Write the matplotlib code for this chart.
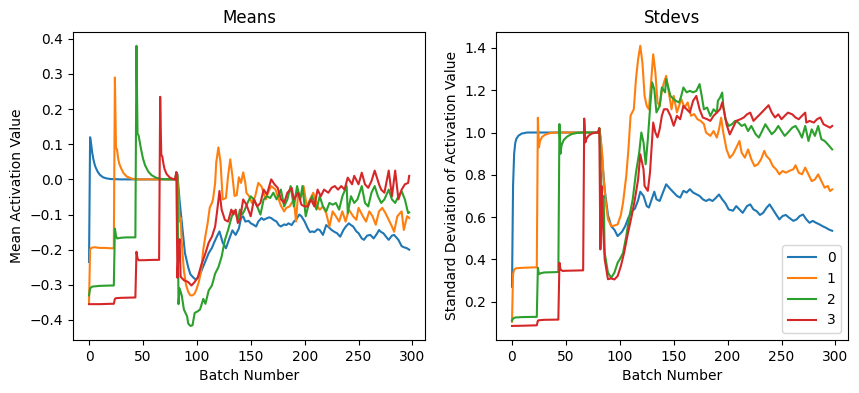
import matplotlib
matplotlib.use("Agg")
import matplotlib.pyplot as plt

# ---------------- means (batch, value) per layer ----------------
mean0_x = [0, 1, 2, 3, 4, 5, 6, 8, 10, 13, 16, 20, 30, 50, 70, 80, 81, 82, 84, 86, 89, 92, 94, 97, 99,
           101, 103, 105, 107, 109, 111, 114, 116, 119, 121, 124, 127, 130, 133, 136, 139, 141, 143,
           145, 148, 150, 152, 155, 157, 160, 162, 164, 167, 169, 171, 174, 176, 178, 181, 183, 185,
           188, 190, 192, 195, 197, 200, 203, 205, 207, 209, 212, 214, 217, 220, 222, 225, 228, 230,
           233, 236, 238, 241, 243, 245, 248, 250, 253, 255, 258, 261, 264, 267, 269, 271, 273, 276,
           278, 281, 283, 285, 287, 290, 292, 295, 297]
mean0_y = [-0.235, 0.12, 0.10, 0.075, 0.058, 0.045, 0.035, 0.022, 0.013, 0.006, 0.003, 0.001, 0.0, 0.0,
           0.0, 0.0, 0.02, 0.015, -0.06, -0.12, -0.21, -0.25, -0.27, -0.28, -0.285,
           -0.28, -0.27, -0.255, -0.24, -0.225, -0.21, -0.195, -0.18, -0.16, -0.148, -0.18, -0.196,
           -0.17, -0.145, -0.158, -0.14, -0.11, -0.105,
           -0.12, -0.118, -0.125, -0.128, -0.134, -0.12, -0.11, -0.115, -0.112, -0.108, -0.11, -0.115,
           -0.12, -0.13, -0.134, -0.128, -0.13, -0.125,
           -0.13, -0.12, -0.115, -0.1, -0.105, -0.12, -0.14, -0.15, -0.148, -0.15, -0.142, -0.144,
           -0.158, -0.13, -0.135, -0.144, -0.15, -0.153,
           -0.163, -0.144, -0.135, -0.125, -0.13, -0.134, -0.148, -0.153, -0.168, -0.172, -0.16,
           -0.158, -0.168, -0.155, -0.144, -0.15, -0.153, -0.165,
           -0.172, -0.16, -0.158, -0.165, -0.172, -0.19, -0.193, -0.196, -0.2]

mean1_x = [0, 1, 2, 5, 10, 15, 20, 23, 24, 25, 26, 27, 28, 30, 32, 35, 40, 45, 80, 81, 82, 83, 84, 85,
           86, 88, 90, 92, 94, 96, 98, 100, 102, 104, 106, 108, 110, 112, 114, 115, 117, 118, 120,
           122, 124, 127, 129, 131, 133, 135, 137, 139, 141, 143, 145, 146, 149, 151, 154, 157, 160,
           164, 166, 169, 173, 176, 178, 181, 183, 186, 190, 192, 194, 197, 199, 202, 205, 208, 212,
           214, 217, 220, 223, 226, 229, 232, 235, 238, 241, 245, 248, 250, 254, 257, 260, 263, 266,
           269, 272, 275, 278, 281, 283, 286, 290, 292, 295, 297]
mean1_y = [-0.35, -0.2, -0.195, -0.193, -0.195, -0.195, -0.196, -0.196, 0.29, 0.09, 0.085, 0.06, 0.045,
           0.03, 0.018, 0.008, 0.002, 0.0, 0.0, 0.02, 0.01, -0.05, -0.12, -0.11,
           -0.18, -0.26, -0.3, -0.32, -0.33, -0.33, -0.325, -0.31, -0.29, -0.26, -0.2, -0.16, -0.125,
           -0.08, -0.067, -0.057, -0.01, 0.048, 0.091,
           0.048, -0.057, -0.053, 0.01, 0.057, 0.01, -0.047, -0.045, 0.006, -0.01, 0.02, -0.01, -0.038,
           -0.05, -0.067, -0.05, -0.01, -0.02,
           -0.057, -0.038, -0.019, -0.029, -0.057, -0.075, -0.091, -0.081, -0.077, -0.057, -0.12,
           -0.038, -0.048, -0.019, -0.077, -0.057, -0.038, -0.077,
           -0.086, -0.077, -0.096, -0.134, -0.091, -0.105, -0.12, -0.091, -0.12, -0.086, -0.105,
           -0.115, -0.081, -0.105, -0.12, -0.091, -0.105, -0.129,
           -0.091, -0.081, -0.096, -0.115, -0.134, -0.149, -0.105, -0.091, -0.144, -0.105, -0.11]

mean2_x = [0, 1, 3, 10, 20, 23, 24, 25, 26, 30, 35, 43, 44, 45, 46, 48, 50, 52, 55, 58, 62, 67, 80, 81,
           82, 83, 84, 86, 88, 91, 92, 94, 96, 98, 101, 103, 106, 108, 111, 114, 117, 120, 123, 126,
           129, 132, 134, 136, 138, 140, 142, 144, 147, 150, 153, 156, 159, 162, 165, 168, 171, 174,
           178, 181, 184, 187, 190, 193, 196, 198, 201, 204, 207, 211, 214, 217, 220, 223, 226, 229,
           232, 235, 239, 240, 243, 246, 249, 253, 256, 259, 262, 265, 268, 271, 274, 278, 281, 284,
           287, 290, 293, 296, 297]
mean2_y = [-0.33, -0.31, -0.305, -0.303, -0.302, -0.302, -0.14, -0.16, -0.168, -0.166, -0.165, -0.165,
           0.38, 0.13, 0.125, 0.09, 0.06, 0.04, 0.022, 0.012, 0.005, 0.001, 0.0, 0.02,
           0.01, -0.355, -0.31, -0.33, -0.37, -0.39, -0.41, -0.417, -0.415, -0.38, -0.375, -0.37,
           -0.34, -0.354, -0.316, -0.302, -0.268, -0.25, -0.22, -0.173,
           -0.144, -0.11, -0.09, -0.096, -0.115, -0.086, -0.1, -0.09, -0.067, -0.048, -0.057, -0.077,
           -0.1, -0.057, -0.048, -0.053, -0.038, -0.057,
           -0.029, -0.077, -0.057, -0.019, -0.077, -0.019, -0.057, -0.019, -0.105, -0.067, -0.048,
           -0.086, -0.048, -0.077, -0.091, -0.067, -0.072, -0.067,
           -0.086, -0.048, -0.019, -0.096, -0.048, -0.067, -0.057, -0.019, -0.067, -0.077, -0.038,
           -0.019, -0.048, -0.067, -0.057, -0.029, -0.057, -0.067,
           -0.048, -0.034, -0.057, -0.096, -0.094]

mean3_x = [0, 10, 20, 23, 24, 25, 30, 43, 44, 45, 46, 50, 60, 65, 66, 67, 68, 69, 70, 72, 75, 78, 80,
           81, 82, 83, 84, 85, 88, 92, 95, 98, 101, 104, 108, 111, 114, 117, 119, 121, 123, 126, 129,
           132, 134, 136, 138, 140, 143, 146, 150, 153, 156, 159, 162, 165, 169, 172, 175, 178, 181,
           184, 188, 190, 194, 197, 200, 203, 206, 209, 212, 215, 218, 222, 225, 228, 231, 234, 237,
           240, 244, 246, 250, 253, 256, 259, 262, 265, 269, 271, 274, 278, 281, 284, 287, 290, 293,
           296, 297]
mean3_y = [-0.355, -0.355, -0.354, -0.354, -0.34, -0.338, -0.337, -0.336, -0.206, -0.225, -0.23, -0.23,
           -0.229, -0.229, 0.235, 0.07, 0.065, 0.045, 0.03, 0.015, 0.005, 0.001, 0.0,
           0.02, -0.28, -0.2, -0.17, -0.277, -0.287, -0.292, -0.302, -0.292, -0.278, -0.245, -0.21,
           -0.18, -0.163, -0.134, -0.086, -0.033, -0.086, -0.115, -0.12,
           -0.086, -0.1, -0.086, -0.124, -0.115, -0.057, -0.072, -0.105, -0.057, -0.077, -0.067,
           -0.029, -0.043, 0.0, -0.014, -0.024, -0.057, -0.067,
           -0.038, -0.024, -0.057, -0.038, -0.072, -0.077, -0.077, -0.057, -0.077, -0.029, -0.048,
           -0.029, -0.038, -0.024, -0.019, -0.029, -0.019, -0.029,
           0.005, -0.014, 0.01, -0.014, 0.019, -0.014, -0.024, -0.005, 0.025, -0.014, -0.029, -0.038,
           0.025, -0.048, 0.025, -0.057, -0.029, -0.014,
           -0.01, 0.01]

# ---------------- stdevs (batch, value) per layer ----------------
std0_x = [0, 1, 2, 3, 4, 6, 9, 14, 80, 81, 82, 84, 86, 89, 92, 95, 98, 100, 102, 105, 108, 111, 114,
          117, 119, 122, 125, 127, 130, 132, 134, 137, 140, 143, 147, 150, 153, 156, 159, 162, 165,
          168, 171, 174, 177, 180, 183, 186, 189, 192, 195, 198, 201, 205, 208, 211, 214, 218, 221,
          224, 227, 230, 233, 236, 239, 242, 245, 248, 251, 254, 257, 261, 264, 267, 270, 273, 276,
          279, 282, 285, 288, 291, 294, 297]
std0_y = [0.27, 0.75, 0.9, 0.95, 0.97, 0.985, 0.995, 1.0, 1.0, 1.02, 0.98, 0.85, 0.73, 0.61, 0.557,
          0.54, 0.51, 0.52, 0.53, 0.557, 0.597, 0.626, 0.64,
          0.68, 0.72, 0.7, 0.652, 0.645, 0.69, 0.72, 0.684, 0.676, 0.716, 0.755, 0.732, 0.716, 0.70,
          0.692, 0.724, 0.716, 0.732,
          0.716, 0.708, 0.70, 0.684, 0.676, 0.684, 0.676, 0.69, 0.707, 0.684, 0.665, 0.636, 0.63,
          0.652, 0.636, 0.62, 0.652, 0.66,
          0.636, 0.628, 0.61, 0.62, 0.643, 0.66, 0.636, 0.612, 0.589, 0.605, 0.61, 0.597, 0.582,
          0.589, 0.605, 0.612, 0.589, 0.573,
          0.582, 0.573, 0.566, 0.557, 0.55, 0.541, 0.535]

std1_x = [0, 1, 2, 4, 10, 20, 23, 24, 25, 26, 28, 31, 35, 40, 80, 81, 83, 84, 85, 87, 89, 92, 95, 98,
          101, 103, 106, 108, 110, 113, 115, 117, 119, 121, 123, 125, 127, 129, 131, 133, 135, 137,
          139, 141, 143, 146, 148, 150, 153, 155, 157, 160, 163, 166, 169, 172, 175, 178, 180, 184,
          187, 190, 192, 194, 196, 199, 202, 205, 208, 211, 213, 216, 219, 222, 225, 228, 231, 234,
          236, 239, 242, 245, 248, 251, 254, 257, 261, 263, 266, 269, 272, 275, 278, 281, 284, 287,
          290, 293, 295, 297]
std1_y = [0.105, 0.33, 0.352, 0.358, 0.36, 0.362, 0.362, 1.07, 0.93, 0.96, 0.98, 0.99, 0.997, 1.0,
          1.0, 1.02, 0.94, 0.88, 0.78, 0.67, 0.59, 0.557, 0.56, 0.565,
          0.61, 0.668, 0.795, 0.92, 1.08, 1.11, 1.253, 1.347, 1.41, 1.33, 1.173, 1.126, 1.11, 1.237,
          1.37, 1.284, 1.142, 1.126,
          1.197, 1.237, 1.268, 1.173, 1.11, 1.173, 1.095, 1.126, 1.158, 1.118, 1.142, 1.079, 1.087,
          1.063, 1.055, 1.04, 1.0, 0.984,
          1.007, 0.976, 1.015, 1.07, 1.0, 0.92, 0.88, 0.897, 0.928, 0.96, 0.905, 0.881, 0.92, 0.873,
          0.841, 0.849, 0.873, 0.913,
          0.889, 0.873, 0.841, 0.826, 0.802, 0.818, 0.81, 0.818, 0.826, 0.845, 0.81, 0.802, 0.834,
          0.802, 0.77, 0.778, 0.802, 0.77,
          0.739, 0.747, 0.723, 0.731]

std2_x = [0, 1, 3, 10, 23, 24, 25, 27, 30, 43, 44, 45, 46, 48, 51, 55, 60, 65, 80, 81, 83, 84, 85, 86,
          89, 92, 95, 98, 100, 103, 106, 109, 112, 115, 118, 120, 122, 124, 126, 128, 130, 132, 134,
          137, 139, 142, 143, 145, 147, 150, 152, 155, 157, 159, 162, 165, 168, 171, 174, 176, 178,
          181, 184, 187, 190, 191, 193, 195, 196, 198, 201, 204, 207, 210, 213, 216, 219, 222, 226,
          229, 232, 235, 238, 241, 244, 247, 250, 253, 256, 260, 263, 266, 269, 272, 275, 278, 281,
          284, 287, 290, 293, 297]
std2_y = [0.11, 0.12, 0.125, 0.127, 0.128, 0.36, 0.33, 0.335, 0.338, 0.34, 1.04, 0.9, 0.94, 0.965,
          0.98, 0.992, 0.998, 1.0, 1.0, 1.02, 0.73, 0.68, 0.7, 0.43,
          0.337, 0.313, 0.337, 0.384, 0.40, 0.43, 0.51, 0.605, 0.684, 0.81, 0.905, 1.0, 0.953, 0.85,
          0.968, 1.11, 1.237, 1.205, 1.095,
          1.126, 1.213, 1.19, 1.253, 1.213, 1.173, 1.158, 1.15, 1.142, 1.173, 1.213, 1.19, 1.197,
          1.19, 1.197, 1.229, 1.173, 1.11,
          1.118, 1.078, 1.11, 1.094, 1.15, 1.165, 1.189, 1.126, 1.063, 1.031, 1.039, 1.055, 1.047,
          1.031, 1.039, 1.007, 1.031, 0.992,
          0.976, 1.007, 1.039, 1.015, 0.992, 1.007, 1.031, 1.007, 0.984, 1.0, 1.023, 1.031, 1.007,
          0.976, 1.031, 0.96, 1.015, 0.984,
          1.031, 0.968, 0.96, 0.944, 0.92]

std3_x = [0, 10, 23, 24, 25, 30, 43, 44, 45, 47, 50, 66, 67, 68, 69, 71, 74, 78, 80, 81, 82, 83, 84,
          86, 89, 92, 95, 98, 101, 104, 107, 111, 114, 117, 119, 122, 123, 126, 128, 130, 131, 133,
          135, 137, 139, 141, 144, 147, 150, 153, 156, 159, 162, 165, 168, 171, 174, 177, 181, 184,
          187, 190, 193, 195, 197, 199, 202, 205, 208, 212, 215, 218, 221, 224, 227, 230, 233, 236,
          238, 241, 244, 247, 250, 253, 256, 260, 263, 266, 269, 272, 273, 276, 280, 283, 286, 289,
          292, 295, 297]
std3_y = [0.085, 0.086, 0.088, 0.11, 0.112, 0.114, 0.115, 0.384, 0.352, 0.345, 0.346, 0.348, 1.066,
          0.953, 0.97, 0.985, 0.995, 1.0, 1.0, 1.02, 0.447, 0.747, 0.6,
          0.40, 0.306, 0.31, 0.305, 0.321, 0.368, 0.431, 0.51, 0.605, 0.684, 0.779, 0.897, 0.826,
          0.747, 0.724, 0.81, 0.968, 1.047, 1.0,
          0.977, 1.016, 1.079, 1.11, 1.11, 1.079, 1.032, 1.079, 1.063, 1.126, 1.11, 1.095, 1.15,
          1.173, 1.11, 1.071, 1.063, 1.055,
          1.079, 1.094, 1.11, 1.142, 1.094, 1.039, 0.991, 1.023, 1.055, 1.063, 1.071, 1.086, 1.094,
          1.055, 1.071, 1.086, 1.102, 1.118,
          1.129, 1.094, 1.071, 1.086, 1.063, 1.079, 1.094, 1.086, 1.071, 1.063, 1.079, 1.094, 1.047,
          1.055, 1.047, 1.063, 1.071, 1.039,
          1.031, 1.023, 1.031]

labels = ["0", "1", "2", "3"]
means = [(mean0_x, mean0_y), (mean1_x, mean1_y), (mean2_x, mean2_y), (mean3_x, mean3_y)]
stds = [(std0_x, std0_y), (std1_x, std1_y), (std2_x, std2_y), (std3_x, std3_y)]

fig = plt.figure(figsize=(8.59, 3.93), dpi=100)
ax1 = fig.add_axes([0.085, 0.135, 0.41, 0.784])
ax2 = fig.add_axes([0.5774, 0.135, 0.41, 0.784])

for (x, y), lab in zip(means, labels):
    ax1.plot(x, y, label=lab)
ax1.set_title("Means")
ax1.set_xlabel("Batch Number")
ax1.set_ylabel("Mean Activation Value")

for (x, y), lab in zip(stds, labels):
    ax2.plot(x, y, label=lab)
ax2.set_title("Stdevs")
ax2.set_xlabel("Batch Number")
ax2.set_ylabel("Standard Deviation of Activation Value")
ax2.legend(loc="lower right")

fig.savefig("out.png")
